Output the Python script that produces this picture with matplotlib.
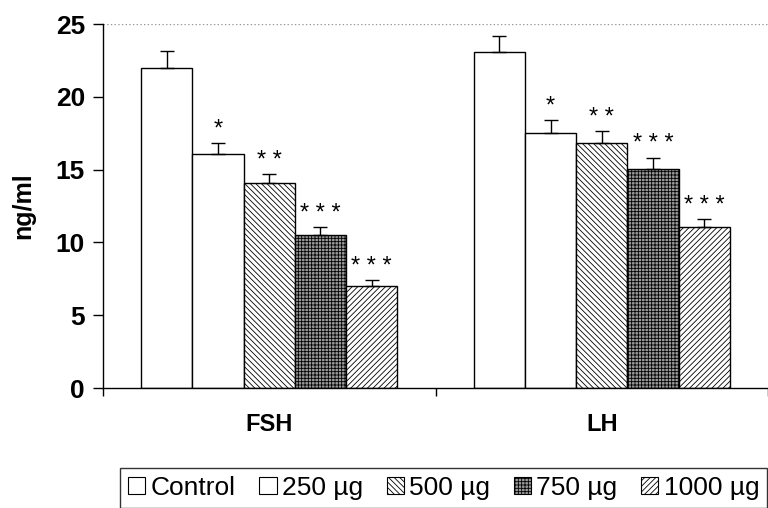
import numpy as np
import matplotlib.pyplot as plt
from matplotlib.patches import Patch

plt.rcParams['font.family'] = ['Liberation Sans', 'DejaVu Sans']
plt.rcParams['hatch.linewidth'] = 0.6

""" Data read off the picture """
groups = ['FSH', 'LH']
doses = ['Control', '250 \u00b5g', '500 \u00b5g', '750 \u00b5g', '1000 \u00b5g']
fsh = [22.0, 16.05, 14.05, 10.5, 7.0]
fsh_err = [1.15, 0.8, 0.66, 0.56, 0.4]
lh = [23.05, 17.5, 16.85, 15.05, 11.05]
lh_err = [1.13, 0.94, 0.82, 0.78, 0.56]
stars = ['', '*', '* *', '* * *', '* * *']

""" Bar styles """
faces = ['white', 'white', 'white', '#9a9a9a', 'white']
hatches = [None, None, '\\\\\\\\\\\\', '+++++', '//////']

fig = plt.figure(figsize=(7.68, 5.08), dpi=100)
ax = fig.add_axes([103 / 768, 1 - 388 / 508, (768 - 103) / 768, (388 - 24) / 508])

width = 0.154
centers = np.array([0.5, 1.5])
vals = np.array([fsh, lh])
errs = np.array([fsh_err, lh_err])

for i in range(len(doses)):
    x = centers + (i - 2) * width
    ax.bar(x, vals[:, i], width, color=faces[i], edgecolor='black', hatch=hatches[i],
           linewidth=1.0, zorder=2)
    ax.errorbar(x, vals[:, i], yerr=[np.zeros(2), errs[:, i]], fmt='none', ecolor='black',
                elinewidth=1.0, capsize=5, capthick=1.0, zorder=3)
    for xx, v, e in zip(x, vals[:, i], errs[:, i]):
        if stars[i]:
            ax.text(xx, v + e + 0.15, stars[i], ha='center', va='bottom', fontsize=17, zorder=4)

ax.set_ylim(0, 25)
ax.set_xlim(0, (768 - 103) / 338)
ax.set_yticks([0, 5, 10, 15, 20, 25])
ax.tick_params(axis='y', labelsize=19, width=1, length=7, direction='out', pad=6)
for lab in ax.get_yticklabels():
    lab.set_fontweight('bold')
ax.set_xticks([0, 1, 2])
ax.set_xticklabels([])
ax.tick_params(axis='x', width=1, length=6, direction='out')
for c, g in zip(centers, groups):
    ax.text(c, -0.068, g, transform=ax.get_xaxis_transform(), ha='center', va='top',
            fontsize=17, fontweight='bold')

ax.set_ylabel('ng/ml', fontsize=18, fontweight='bold', labelpad=15)
ax.axhline(25, color='#999999', linestyle=':', linewidth=1.0, zorder=1)

ax.spines['top'].set_visible(False)
ax.spines['right'].set_visible(False)
ax.spines['left'].set_linewidth(1.0)
ax.spines['bottom'].set_linewidth(1.0)

handles = [Patch(facecolor=faces[i], edgecolor='black', hatch=hatches[i], linewidth=0.8)
           for i in range(len(doses))]
leg = fig.legend(handles, doses, ncol=5, loc='upper right', bbox_to_anchor=(0.999, 1 - 468 / 508),
                 fontsize=19, frameon=True, fancybox=False, edgecolor='black',
                 handlelength=0.65, handleheight=0.65, handletextpad=0.2,
                 columnspacing=0.9, borderpad=0.3, borderaxespad=0.0)
leg.get_frame().set_linewidth(1.0)

fig.savefig('out.png', dpi=100)
